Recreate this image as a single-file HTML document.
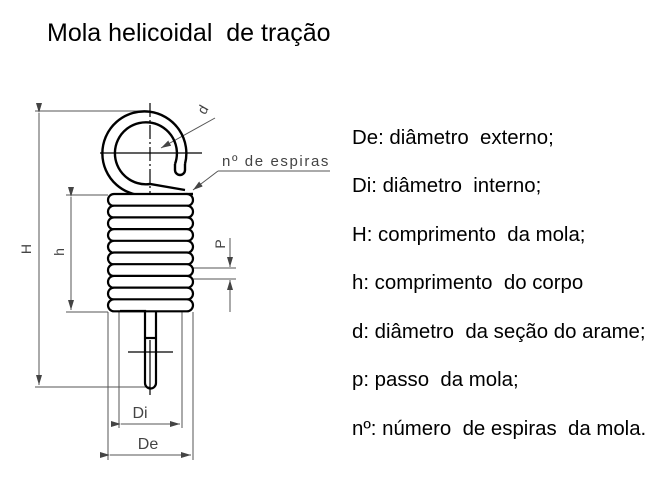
<!DOCTYPE html>
<html><head><meta charset="utf-8"><style>
body{margin:0;background:#fff;width:665px;height:504px;overflow:hidden;font-family:"Liberation Sans",sans-serif}
.t{position:absolute;left:352px;font-size:20.4px;line-height:20px;color:#000;white-space:pre}
</style></head><body>
<div style="position:absolute;left:47px;top:21px;font-size:25px;line-height:24px;white-space:pre">Mola helicoidal  de tração</div>
<div class="t" style="top:128px">De: diâmetro  externo;</div>
<div class="t" style="top:176px">Di: diâmetro  interno;</div>
<div class="t" style="top:225px">H: comprimento  da mola;</div>
<div class="t" style="top:273px">h: comprimento  do corpo</div>
<div class="t" style="top:322px">d: diâmetro  da seção do arame;</div>
<div class="t" style="top:370px">p: passo  da mola;</div>
<div class="t" style="top:419px">nº: número  de espiras  da mola.</div>
<svg width="665" height="504" style="position:absolute;left:0;top:0" font-family="Liberation Sans, DejaVu Sans, sans-serif">
<defs><marker id="a" markerWidth="10" markerHeight="6" refX="10" refY="3" orient="auto" markerUnits="userSpaceOnUse"><path d="M0,0 L10,3 L0,6 z" fill="#444"/></marker></defs>
<g stroke="#555" stroke-width="1" fill="none">
<line x1="35" y1="111" x2="145" y2="111"/>
<line x1="35" y1="387" x2="150" y2="387"/>
<line x1="39" y1="113" x2="39" y2="385" marker-start="url(#a)" marker-end="url(#a)"/>
<line x1="66" y1="195" x2="108" y2="195"/>
<line x1="66" y1="312" x2="108" y2="312"/>
<line x1="71" y1="197" x2="71" y2="310" marker-start="url(#a)" marker-end="url(#a)"/>
<line x1="119" y1="310" x2="119" y2="428"/>
<line x1="182" y1="310" x2="182" y2="428"/>
<line x1="121" y1="424" x2="180" y2="424" marker-start="url(#a)" marker-end="url(#a)"/>
<line x1="108" y1="312" x2="108" y2="460"/>
<line x1="193" y1="312" x2="193" y2="460"/>
<line x1="110" y1="455" x2="191" y2="455" marker-start="url(#a)" marker-end="url(#a)"/>
<line x1="188" y1="268" x2="236" y2="268"/>
<line x1="188" y1="279" x2="236" y2="279"/>
<line x1="230" y1="238" x2="230" y2="267" marker-end="url(#a)"/>
<line x1="230" y1="312" x2="230" y2="280" marker-end="url(#a)"/>
<line x1="215" y1="118" x2="161" y2="148" marker-end="url(#a)"/>
<line x1="218" y1="171" x2="330" y2="171"/>
<line x1="218" y1="171" x2="193" y2="190" marker-end="url(#a)"/>
</g>
<g stroke="#000" stroke-width="1.2">
<line x1="100" y1="153" x2="202" y2="153"/>
<line x1="150" y1="103" x2="150" y2="200" stroke-dasharray="14,3,2,3"/>
<line x1="150" y1="205" x2="150" y2="300" stroke-dasharray="14,3,2,3"/>
<line x1="128" y1="352" x2="173" y2="352"/>
<line x1="150" y1="340" x2="150" y2="395"/>
</g>
<g stroke="#000" stroke-width="2.4" fill="none">
<path d="M185,164 A42,42 0 1 0 150,195"/>
<path d="M175,164 A31,31 0 1 0 150,184 L185,190"/>
<path d="M175,164 L175,170 A5,5 0 0 0 185,170 L185,164"/>
<line x1="150" y1="195" x2="193" y2="194"/>
</g>
<g stroke="#000" stroke-width="2.2" fill="#fff">
<rect x="108" y="194" width="85" height="12" rx="6"/>
<rect x="108" y="205.7" width="85" height="12" rx="6"/>
<rect x="108" y="217.4" width="85" height="12" rx="6"/>
<rect x="108" y="229.1" width="85" height="12" rx="6"/>
<rect x="108" y="240.8" width="85" height="12" rx="6"/>
<rect x="108" y="252.5" width="85" height="12" rx="6"/>
<rect x="108" y="264.2" width="85" height="12" rx="6"/>
<rect x="108" y="275.9" width="85" height="12" rx="6"/>
<rect x="108" y="287.6" width="85" height="12" rx="6"/>
<rect x="108" y="299.3" width="85" height="12" rx="6"/>
<path d="M120,311 L145,311 L145,383 A5.5,5.5 0 0 0 156,383 L156,311" fill="none"/>
<line x1="145" y1="338" x2="156" y2="338"/>
</g>
<g fill="#444" font-size="16">
<text x="140" y="418" text-anchor="middle">Di</text>
<text x="148" y="449" text-anchor="middle">De</text>
<text transform="translate(31,249) rotate(-90)" text-anchor="middle" font-size="14">H</text>
<text transform="translate(64,252) rotate(-90)" text-anchor="middle" font-size="14">h</text>
<text transform="translate(225,244) rotate(-90)" text-anchor="middle" font-size="14">P</text>
<text transform="translate(207,112) rotate(-60)" text-anchor="middle" font-size="14">d</text>
<text x="222" y="166" font-size="15" letter-spacing="1.6">nº de  espiras</text>
</g>
</svg>
</body></html>
